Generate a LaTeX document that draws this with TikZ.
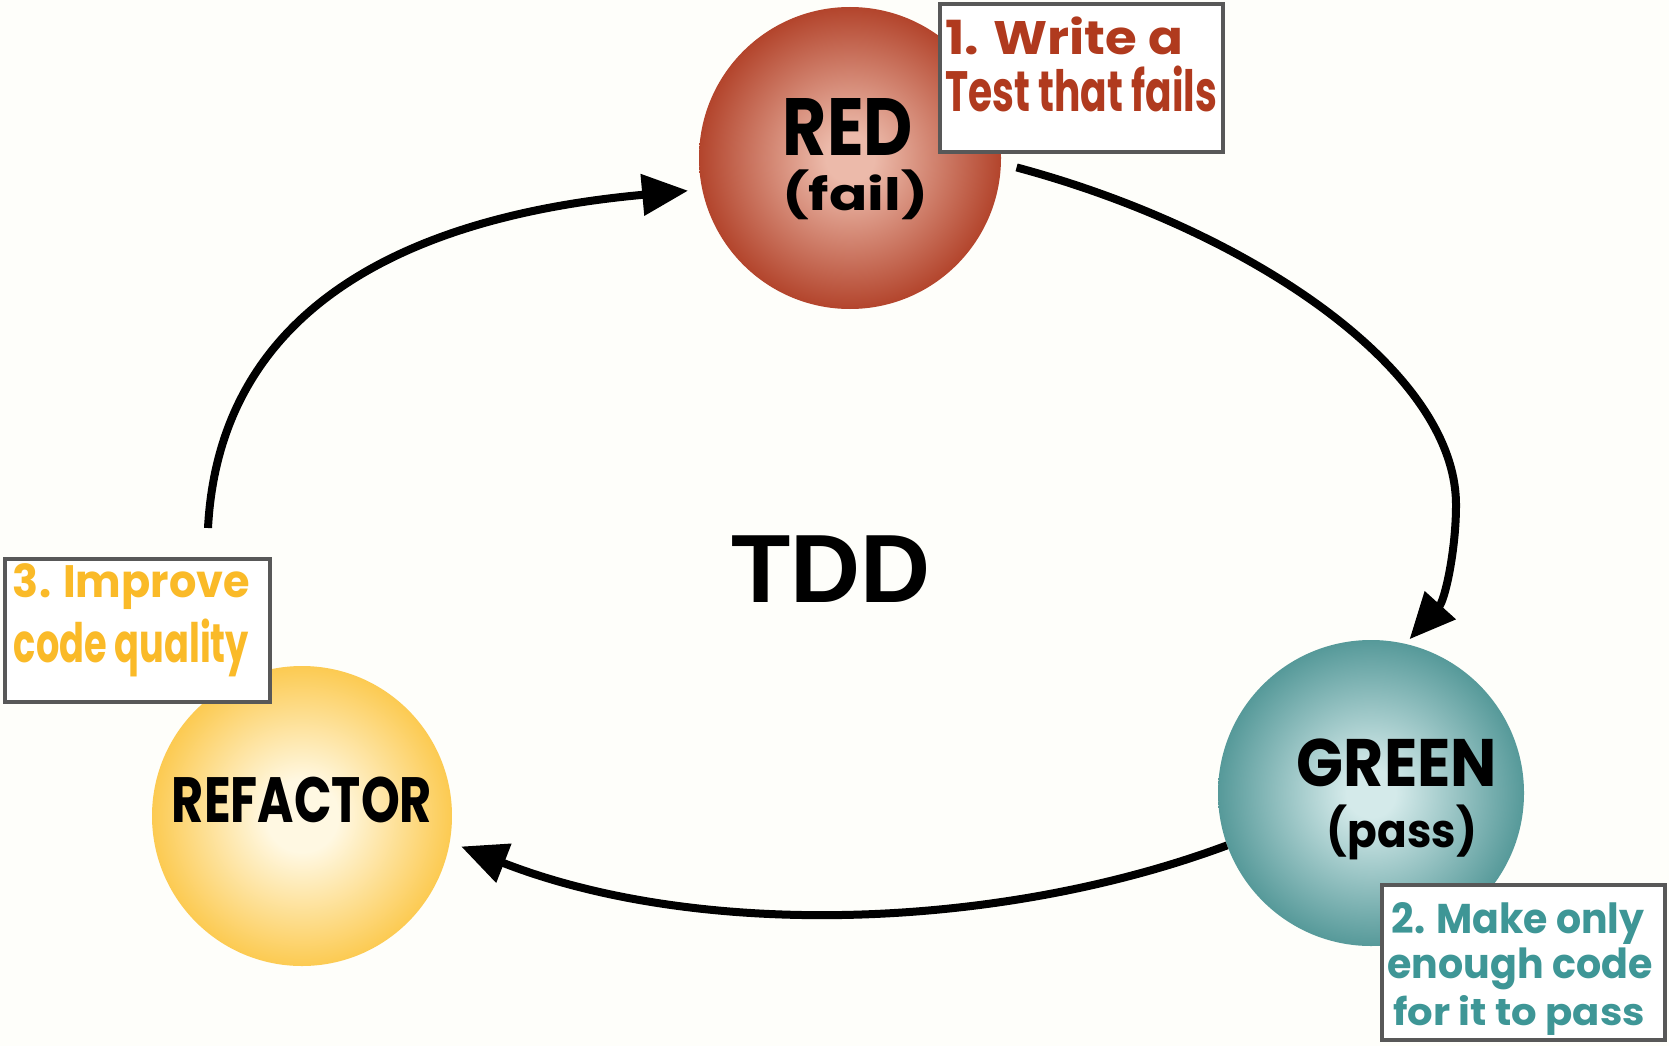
\documentclass[tikz,border=0pt]{standalone}
\usepackage{graphicx}
\usepackage{fontspec}
\setmainfont{Liberation Sans}
\newfontfamily\hand{Poppins}
\usetikzlibrary{arrows.meta}
\definecolor{bg}{RGB}{254,254,250}
\definecolor{boxgray}{RGB}{88,88,88}
\definecolor{redout}{RGB}{168,46,20}
\definecolor{redin}{RGB}{236,186,170}
\definecolor{greenout}{RGB}{62,138,138}
\definecolor{greenin}{RGB}{212,234,234}
\definecolor{yelout}{RGB}{251,188,36}
\definecolor{yelin}{RGB}{255,248,226}
\definecolor{redtxt}{RGB}{176,58,30}
\definecolor{greentxt}{RGB}{62,150,150}
\definecolor{yeltxt}{RGB}{250,186,40}
\pgfdeclareradialshading{redball}{\pgfpoint{0bp}{0bp}}{color(0bp)=(redin); color(4bp)=(redin); color(29bp)=(redout); color(50bp)=(redout)}
\pgfdeclareradialshading{greenball}{\pgfpoint{0bp}{0bp}}{color(0bp)=(greenin); color(4bp)=(greenin); color(29bp)=(greenout); color(50bp)=(greenout)}
\pgfdeclareradialshading{yelball}{\pgfpoint{0bp}{0bp}}{color(0bp)=(yelin); color(6bp)=(yelin); color(31bp)=(yelout); color(50bp)=(yelout)}
\newcommand{\fitln}[3]{\resizebox*{#1pt}{#2pt}{#3}}
\begin{document}
\begin{tikzpicture}[x=1pt,y=-1pt,
  ball/.style={circle, inner sep=0pt, draw=none, shade},
  notebox/.style={draw=boxgray, line width=4pt, fill=white, inner sep=0pt},
  flow/.style={line width=8pt, -{Triangle[length=46pt,width=40pt]}},
  lbl/.style={inner sep=0pt, text=black, font=\hand\bfseries},
  note/.style={inner sep=0pt, font=\hand\bfseries}]
\fill[bg] (0,0) rectangle (1669,1046);
\useasboundingbox (0,0) rectangle (1669,1046);

% circles
\node[ball, shading=redball, minimum size=302pt] (red) at (850,158) {};
\node[ball, shading=greenball, minimum size=306pt] (green) at (1371,793) {};
\node[ball, shading=yelball, minimum size=300pt] (refac) at (302,816) {};

% circle labels
\node[lbl] (redA) at (848,126.5) {\fitln{130}{57}{RED}};
\node[lbl] (redB) at (855,195) {\fitln{146}{50}{(fail)}};
\node[lbl] (greenA) at (1397,763) {\fitln{200}{48}{GREEN}};
\node[lbl] (greenB) at (1402,832) {\fitln{150}{55}{(pass)}};
\node[lbl] (refacA) at (302,800) {\fitln{260}{46}{REFACTOR}};

% connectors
\coordinate (lstart) at (208,528);
\draw[flow, shorten >=14pt] (lstart) .. controls (220,300) and (420,215) .. (red.192);
\draw[flow, shorten <=16pt, shorten >=6pt] (red.-2) .. controls (1250,230) and (1456,370) .. (1456,505)
   .. controls (1456,550) and (1445,600) .. (green.77);
\draw[flow, shorten >=12pt] (green.200) .. controls (1000,930) and (700,940) .. (refac.-10);

% note boxes
\node[notebox, minimum width=283pt, minimum height=148pt] (redbox) at (1081.5,78) {};
\node[notebox, minimum width=265pt, minimum height=143pt] (yelbox) at (137.5,630.5) {};
\node[notebox, minimum width=283pt, minimum height=155pt] (greenbox) at (1523.5,962.5) {};

\node[note, text=redtxt] (redn1) at (1064,36) {\fitln{238}{38}{1. Write a}};
\node[note, text=redtxt] (redn2) at (1081,89) {\fitln{272}{46}{Test that fails}};
\node[note, text=yeltxt] (yeln1) at (131.5,587) {\fitln{237}{46}{3. Improve}};
\node[note, text=yeltxt] (yeln2) at (131.5,648) {\fitln{235}{58}{code quality}};
\node[note, text=greentxt] (grn1) at (1518,923) {\fitln{253}{42}{2. Make only}};
\node[note, text=greentxt] (grn2) at (1520,969) {\fitln{265}{42}{enough code}};
\node[note, text=greentxt] (grn3) at (1519,1015) {\fitln{252}{40}{for it to pass}};

% center title
\node[inner sep=0pt, font=\bfseries\fontsize{97}{97}\selectfont] (tdd) at (831,569) {TDD};
\end{tikzpicture}
\end{document}
